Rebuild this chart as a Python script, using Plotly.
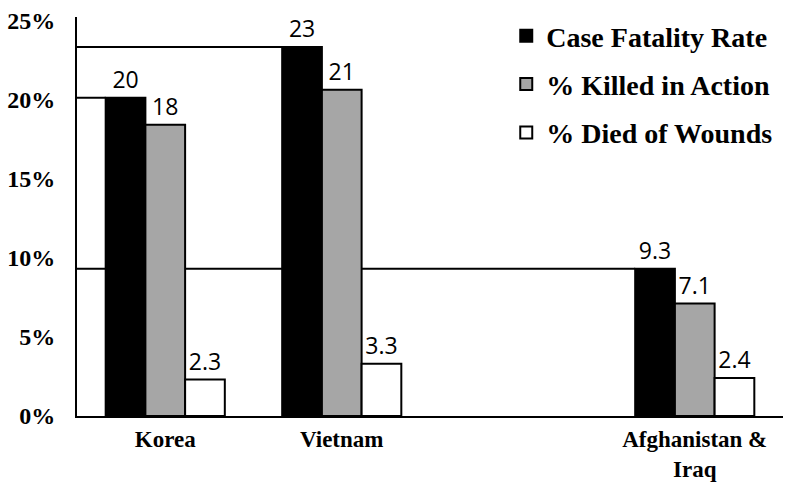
import plotly.graph_objects as go

categories = ["Korea", "Vietnam", "Afghanistan &<br>Iraq"]
positions = [1, 2, 4]
case_fatality = [20.1, 23.3, 9.3]
killed_in_action = [18.4, 20.6, 7.1]
died_of_wounds = [2.3, 3.3, 2.4]
cfr_labels = ["20", "23", "9.3"]
kia_labels = ["18", "21", "7.1"]
dow_labels = ["2.3", "3.3", "2.4"]
y_ticks = [0, 5, 10, 15, 20, 25]
y_tick_labels = [f"{t}%" for t in y_ticks]

W = 0.225
SERIF = "Liberation Serif"
SANS = "Open Sans"
X_MIN, X_MAX = 0.5, 4.5

series = [
    ("Case Fatality Rate", case_fatality, cfr_labels, "#000000", -1.5 * W),
    ("% Killed in Action", killed_in_action, kia_labels, "#a6a6a6", -0.5 * W),
    ("% Died of Wounds", died_of_wounds, dow_labels, "#ffffff", 0.5 * W),
]

fig = go.Figure()
for i, (name, vals, labels, color, off) in enumerate(series):
    fig.add_trace(go.Bar(
        x=positions, y=vals, name=name, width=W, offset=off,
        marker=dict(color=color, line=dict(color="black", width=2)),
        text=labels, textposition="outside", cliponaxis=False,
        textfont=dict(family=SANS, size=23, color="black"),
        legendgroup=f"g{i}",
    ))

# reference lines from axis to left edge of the case fatality bars
for p, v in zip(positions, case_fatality):
    fig.add_shape(type="line", xref="x", yref="y",
                  x0=X_MIN, x1=p - 1.5 * W, y0=v, y1=v,
                  line=dict(color="black", width=2), layer="below")

fig.update_layout(
    width=787, height=486,
    margin=dict(l=77, r=4, t=17, b=70),
    plot_bgcolor="white", paper_bgcolor="white",
    barmode="overlay",
    showlegend=True,
    legend=dict(x=0.608, xanchor="left", y=1.015, yanchor="top",
                traceorder="grouped", tracegroupgap=9,
                font=dict(family=SERIF, size=28, color="black", weight="bold"),
                bgcolor="rgba(0,0,0,0)"),
    xaxis=dict(range=[X_MIN, X_MAX], tickvals=positions, ticktext=categories,
               showline=True, linecolor="black", linewidth=2, ticks="",
               showgrid=False, zeroline=False, ticklabelstandoff=1,
               automargin=False,
               tickfont=dict(family=SERIF, size=23, color="black", weight="bold")),
    yaxis=dict(range=[0, 25.2], tickvals=y_ticks, ticktext=y_tick_labels,
               showline=True, linecolor="black", linewidth=2, ticks="",
               showgrid=False, zeroline=False, ticklabelstandoff=15,
               automargin=False,
               tickfont=dict(family=SERIF, size=24, color="black", weight="bold")),
)

fig.write_html("out.html")
